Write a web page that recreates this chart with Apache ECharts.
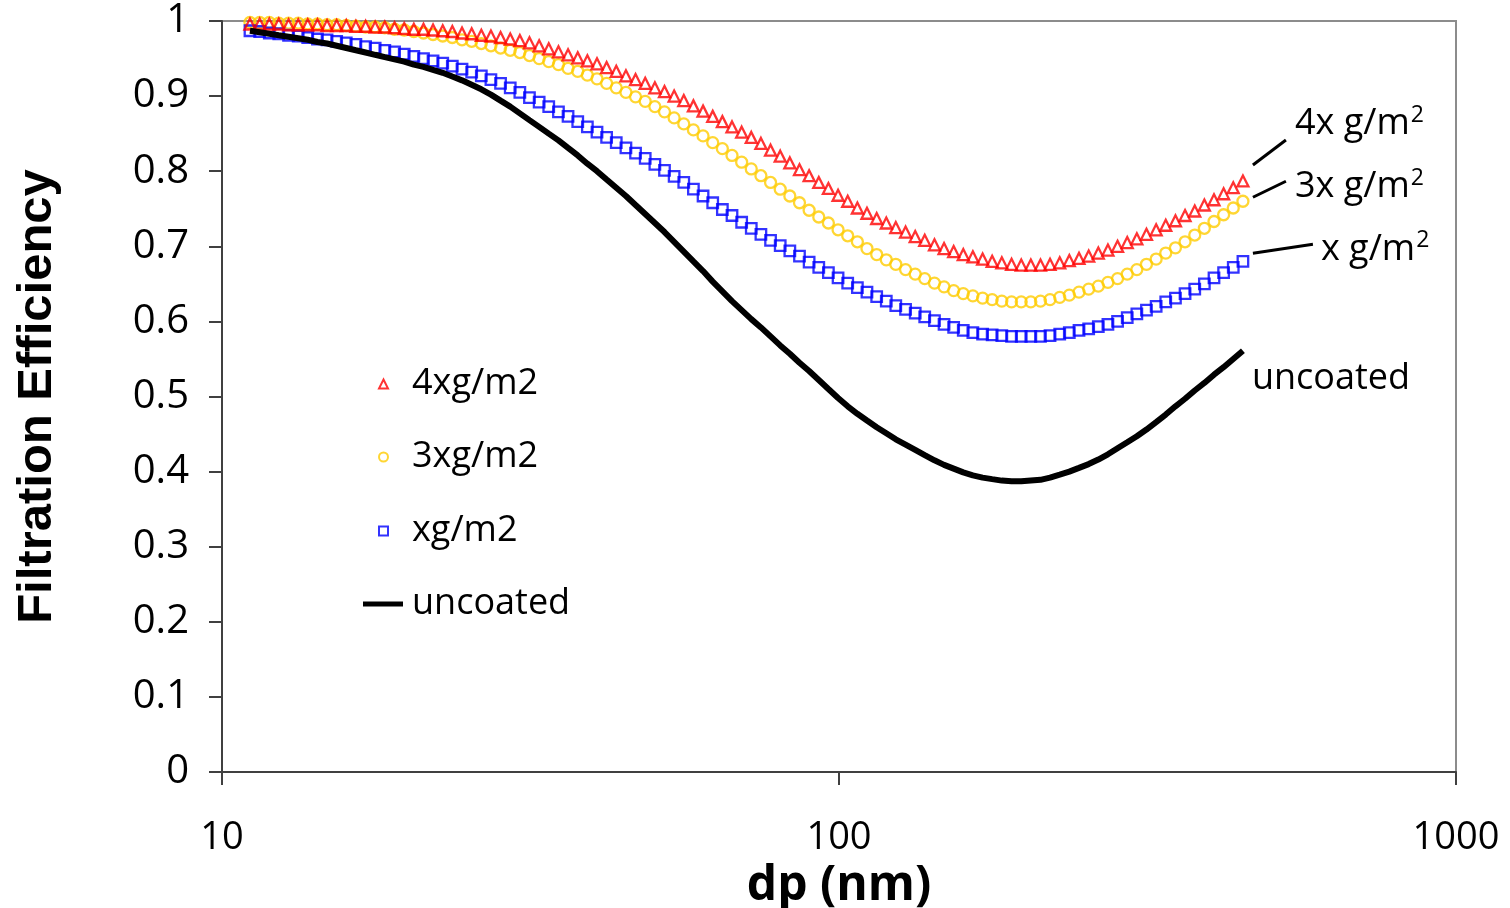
<!DOCTYPE html>
<html>
<head>
<meta charset="utf-8">
<script src="https://cdn.jsdelivr.net/npm/echarts@6/dist/echarts.min.js"></script>
<style>
  html, body { margin: 0; padding: 0; background: #fff; }
  #chart { width: 1510px; height: 908px; }
</style>
</head>
<body>
<div id="chart"></div>
<script>
// Particle diameter (nm), 64 channels per decade
const dp = [11.10, 11.51, 11.93, 12.36, 12.82, 13.29, 13.77, 14.28, 14.80, 15.34,
  15.90, 16.48, 17.09, 17.71, 18.36, 19.04, 19.74, 20.46, 21.21, 21.98,
  22.79, 23.62, 24.49, 25.39, 26.32, 27.28, 28.28, 29.32, 30.39, 31.50,
  32.66, 33.85, 35.10, 36.38, 37.72, 39.10, 40.53, 42.01, 43.55, 45.15,
  46.80, 48.52, 50.30, 52.14, 54.05, 56.03, 58.08, 60.21, 62.42, 64.71,
  67.08, 69.54, 72.08, 74.72, 77.46, 80.30, 83.24, 86.29, 89.45, 92.73,
  96.12, 99.65, 103.3, 107.1, 111.0, 115.1, 119.3, 123.6, 128.2, 132.9,
  137.7, 142.8, 148.0, 153.4, 159.0, 164.8, 170.9, 177.1, 183.6, 190.4,
  197.4, 204.6, 212.1, 219.8, 227.9, 236.2, 244.9, 253.9, 263.2, 272.8,
  282.8, 293.2, 303.9, 315.0, 326.6, 338.5, 351.0, 363.8, 377.2, 391.0,
  405.3, 420.1, 435.5, 451.5];

// Filtration efficiency, 4x g/m2 coating
const eff4x = [0.996, 0.996, 0.996, 0.996, 0.995, 0.995, 0.995, 0.995, 0.994, 0.994,
  0.994, 0.993, 0.993, 0.992, 0.992, 0.991, 0.990, 0.989, 0.989, 0.988,
  0.987, 0.986, 0.984, 0.983, 0.981, 0.980, 0.978, 0.976, 0.974, 0.971,
  0.967, 0.963, 0.959, 0.955, 0.951, 0.947, 0.943, 0.938, 0.933, 0.927,
  0.922, 0.917, 0.911, 0.906, 0.900, 0.894, 0.887, 0.880, 0.873, 0.866,
  0.859, 0.852, 0.845, 0.837, 0.828, 0.820, 0.811, 0.802, 0.794, 0.785,
  0.777, 0.768, 0.760, 0.751, 0.744, 0.737, 0.731, 0.725, 0.719, 0.713,
  0.708, 0.702, 0.697, 0.693, 0.689, 0.686, 0.683, 0.680, 0.678, 0.676,
  0.675, 0.675, 0.675, 0.676, 0.678, 0.681, 0.684, 0.687, 0.691, 0.695,
  0.700, 0.705, 0.710, 0.716, 0.722, 0.728, 0.734, 0.741, 0.747, 0.755,
  0.762, 0.770, 0.778, 0.787];

// Filtration efficiency, 3x g/m2 coating
const eff3x = [0.998, 0.998, 0.998, 0.997, 0.997, 0.997, 0.996, 0.996, 0.995, 0.995,
  0.994, 0.993, 0.992, 0.992, 0.991, 0.989, 0.988, 0.986, 0.984, 0.982,
  0.980, 0.978, 0.975, 0.973, 0.970, 0.967, 0.964, 0.961, 0.958, 0.954,
  0.950, 0.946, 0.942, 0.937, 0.933, 0.928, 0.923, 0.917, 0.911, 0.905,
  0.899, 0.893, 0.886, 0.879, 0.871, 0.863, 0.855, 0.847, 0.838, 0.830,
  0.821, 0.812, 0.803, 0.794, 0.785, 0.776, 0.767, 0.758, 0.748, 0.739,
  0.731, 0.722, 0.714, 0.706, 0.697, 0.689, 0.682, 0.676, 0.669, 0.663,
  0.657, 0.651, 0.646, 0.641, 0.637, 0.634, 0.631, 0.629, 0.627, 0.626,
  0.626, 0.626, 0.627, 0.629, 0.632, 0.635, 0.639, 0.643, 0.647, 0.652,
  0.657, 0.663, 0.669, 0.676, 0.683, 0.691, 0.698, 0.706, 0.715, 0.724,
  0.733, 0.742, 0.751, 0.760];

// Filtration efficiency, x g/m2 coating
const eff1x = [0.987, 0.986, 0.984, 0.983, 0.981, 0.980, 0.978, 0.976, 0.975, 0.973,
  0.971, 0.969, 0.966, 0.964, 0.961, 0.959, 0.956, 0.953, 0.950, 0.947,
  0.944, 0.940, 0.936, 0.932, 0.927, 0.922, 0.917, 0.911, 0.905, 0.898,
  0.892, 0.886, 0.879, 0.873, 0.866, 0.859, 0.852, 0.845, 0.838, 0.831,
  0.824, 0.817, 0.809, 0.801, 0.793, 0.785, 0.776, 0.767, 0.758, 0.749,
  0.741, 0.732, 0.724, 0.716, 0.708, 0.701, 0.694, 0.687, 0.679, 0.672,
  0.665, 0.658, 0.651, 0.645, 0.639, 0.633, 0.627, 0.621, 0.616, 0.611,
  0.606, 0.601, 0.596, 0.592, 0.588, 0.585, 0.583, 0.582, 0.581, 0.580,
  0.580, 0.580, 0.580, 0.581, 0.583, 0.585, 0.588, 0.590, 0.593, 0.596,
  0.600, 0.605, 0.610, 0.615, 0.620, 0.626, 0.631, 0.637, 0.643, 0.650,
  0.658, 0.665, 0.672, 0.680];

// Filtration efficiency, uncoated filter
const effUncoated = [0.987, 0.985, 0.983, 0.981, 0.979, 0.977, 0.975, 0.972, 0.970, 0.967,
  0.964, 0.961, 0.958, 0.955, 0.952, 0.949, 0.946, 0.942, 0.939, 0.935,
  0.931, 0.926, 0.921, 0.915, 0.909, 0.902, 0.894, 0.886, 0.877, 0.868,
  0.859, 0.850, 0.841, 0.831, 0.821, 0.810, 0.800, 0.789, 0.778, 0.767,
  0.755, 0.743, 0.731, 0.719, 0.706, 0.693, 0.680, 0.667, 0.653, 0.640,
  0.627, 0.615, 0.603, 0.592, 0.580, 0.568, 0.557, 0.545, 0.534, 0.522,
  0.510, 0.498, 0.487, 0.477, 0.468, 0.459, 0.451, 0.443, 0.436, 0.429,
  0.422, 0.415, 0.409, 0.404, 0.399, 0.395, 0.392, 0.390, 0.388, 0.387,
  0.387, 0.388, 0.389, 0.392, 0.396, 0.400, 0.405, 0.410, 0.416, 0.423,
  0.431, 0.439, 0.447, 0.456, 0.466, 0.476, 0.487, 0.497, 0.508, 0.518,
  0.529, 0.539, 0.550, 0.561];

const seriesNames = ['4xg/m2', '3xg/m2', 'xg/m2', 'uncoated'];
const endLabels = ['4x g/m', '3x g/m', 'x g/m', 'uncoated'];

const FONT = "'Open Sans', 'Noto Sans', sans-serif";

function pairs(ys) {
  return dp.map((d, i) => [d, ys[i]]);
}

const chart = echarts.init(document.getElementById('chart'), null, { renderer: 'canvas' });

const markerStyle = (color) => ({
  color: 'rgba(255,255,255,0)',
  borderColor: color,
  borderWidth: 2.3
});

const legendBase = {
  orient: 'vertical',
  selectedMode: false,
  padding: 0,
  itemWidth: 9,
  itemHeight: 9,
  textStyle: { fontFamily: FONT, fontSize: 36, color: '#000', lineHeight: 40, padding: [0, 0, 0, 19] }
};

const option = {
  backgroundColor: '#fff',
  animation: false,
  grid: {
    left: 222, top: 21, right: 54, bottom: 136,
    outerBoundsMode: 'none',
    show: true, borderColor: '#8c8c8c', borderWidth: 2, backgroundColor: 'transparent'
  },
  xAxis: {
    type: 'log',
    logBase: 10,
    min: 10,
    max: 1000,
    name: 'dp (nm)',
    nameLocation: 'middle',
    nameGap: 82,
    nameTextStyle: { fontFamily: FONT, fontSize: 48, fontWeight: 'bold', color: '#000' },
    axisLine: { lineStyle: { color: '#404040', width: 2 } },
    axisTick: { show: true, length: 13, lineStyle: { color: '#404040', width: 2 } },
    minorTick: { show: false },
    splitLine: { show: false },
    axisLabel: {
      fontFamily: FONT, fontSize: 38, color: '#000', margin: 47,
      formatter: (v) => String(Math.round(v))
    }
  },
  yAxis: {
    type: 'value',
    min: 0,
    max: 1,
    interval: 0.1,
    name: 'Filtration Efficiency',
    nameLocation: 'middle',
    nameRotate: 90,
    nameGap: 160,
    nameTextStyle: { fontFamily: "'Liberation Sans', Arial, sans-serif", fontSize: 49, fontWeight: 'bold', color: '#000' },
    axisLine: { show: true, lineStyle: { color: '#404040', width: 2 } },
    axisTick: { show: true, length: 13, lineStyle: { color: '#404040', width: 2 } },
    splitLine: { show: false },
    axisLabel: { fontFamily: FONT, fontSize: 40, color: '#000', margin: 33 }
  },
  legend: [
    Object.assign({}, legendBase, { left: 378, top: 364, data: [seriesNames[0]] }),
    Object.assign({}, legendBase, { left: 378, top: 437, data: [seriesNames[1]] }),
    Object.assign({}, legendBase, { left: 378, top: 511, data: [seriesNames[2]] }),
    Object.assign({}, legendBase, {
      left: 363, top: 584, itemWidth: 40, itemHeight: 5,
      data: [{ name: seriesNames[3], icon: 'rect' }],
      textStyle: Object.assign({}, legendBase.textStyle, { padding: [0, 0, 0, 4] })
    })
  ],
  series: [
    {
      name: seriesNames[0], type: 'scatter', symbol: 'triangle', symbolSize: 11,
      itemStyle: markerStyle('#ff0000'), data: pairs(eff4x), z: 3
    },
    {
      name: seriesNames[1], type: 'scatter', symbol: 'circle', symbolSize: 11,
      itemStyle: markerStyle('#ffcc00'), data: pairs(eff3x), z: 2
    },
    {
      name: seriesNames[2], type: 'scatter', symbol: 'rect', symbolSize: 10.5,
      itemStyle: markerStyle('#0000ff'), data: pairs(eff1x), z: 2
    },
    {
      name: seriesNames[3], type: 'line', showSymbol: false, symbol: 'none',
      lineStyle: { color: '#000', width: 6 }, itemStyle: { color: '#000' },
      data: pairs(effUncoated), z: 4
    }
  ]
};

chart.setOption(option);

// End-of-curve labels with leader lines, anchored to the last point of each series
const lastIdx = dp.length - 1;
const ends = [eff4x, eff3x, eff1x, effUncoated].map(ys =>
  chart.convertToPixel({ gridIndex: 0 }, [dp[lastIdx], ys[lastIdx]]));

const labelFont = { fontFamily: FONT, fontSize: 36, fill: '#000' };
const richText = (txt) => ({
  text: '{b|' + txt + '}{s|2}',
  rich: {
    b: { fontFamily: FONT, fontSize: 36, color: '#000', lineHeight: 40 },
    s: { fontFamily: FONT, fontSize: 23, color: '#000', verticalAlign: 'top', lineHeight: 40, padding: [0, 0, 14, 1] }
  }
});

const leader = [
  { from: [10, -16], to: [43, -41], text: [52, -57] },
  { from: [10, -4], to: [43, -20], text: [52, -14] },
  { from: [10, -8], to: [70, -17], text: [78, -12] }
];

const graphics = [];
leader.forEach((l, i) => {
  const p = ends[i];
  graphics.push({
    type: 'line',
    shape: { x1: p[0] + l.from[0], y1: p[1] + l.from[1], x2: p[0] + l.to[0], y2: p[1] + l.to[1] },
    style: { stroke: '#000', lineWidth: 3 },
    silent: true
  });
  graphics.push({
    type: 'text',
    x: p[0] + l.text[0],
    y: p[1] + l.text[1],
    style: Object.assign(richText(endLabels[i]), { verticalAlign: 'middle', align: 'left' }),
    silent: true
  });
});
graphics.push({
  type: 'text',
  x: ends[3][0] + 9,
  y: ends[3][1] + 28,
  style: Object.assign({ text: endLabels[3], verticalAlign: 'middle', align: 'left' }, labelFont),
  silent: true
});

chart.setOption({ graphic: graphics });
</script>
</body>
</html>
